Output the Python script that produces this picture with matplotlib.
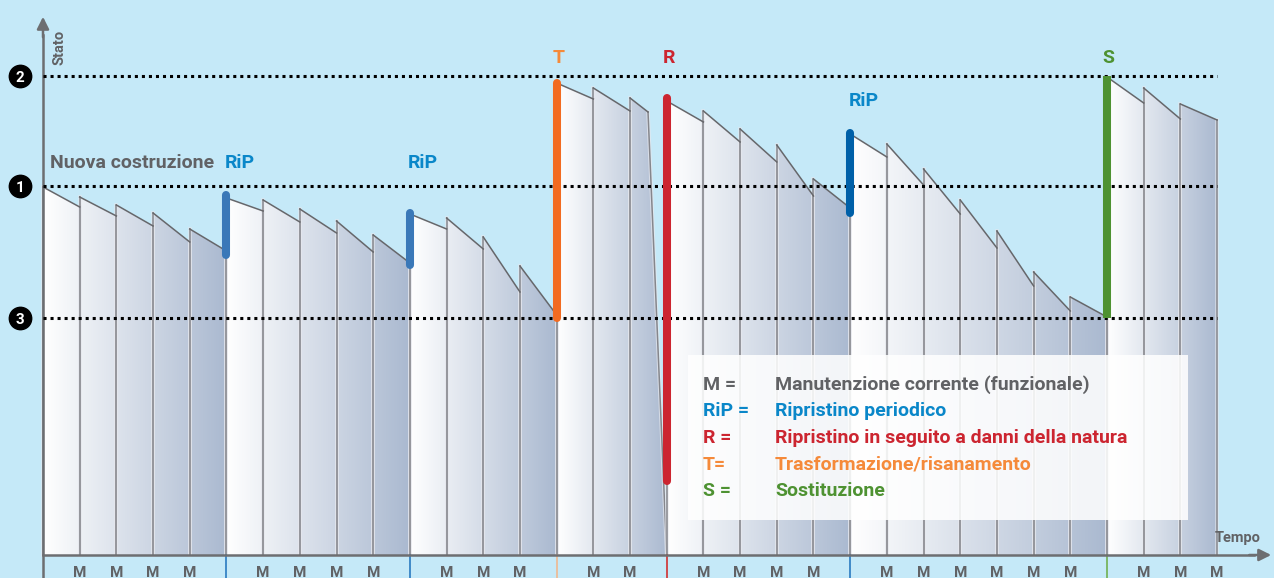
import numpy as np
import matplotlib.pyplot as plt
from matplotlib.patches import Polygon, Rectangle
from matplotlib.colors import LinearSegmentedColormap

plt.rcParams['font.family'] = ['Roboto', 'DejaVu Sans']
plt.rcParams['font.weight'] = 'bold'

# state levels (height above the time axis)
level_names = ['2', '1', '3']
level_values = [479, 369, 237]

# interventions: time, label, bar from/to, colours
event_t = [5, 10, 14, 17, 22, 29]
event_names = ['RiP', 'RiP', 'T', 'R', 'RiP', 'S']
event_low = [300, 290, 237, 74, 342, 237]
event_high = [360, 342, 472, 457, 422, 479]
event_bar_colors = ['#3a78b8', '#3a78b8', '#f26b21', '#cc2530', '#0060a8', '#4e9232']
event_text_colors = ['#0a87c9', '#0a87c9', '#f58a3a', '#cc2530', '#0a87c9', '#4e9232']
event_band_colors = ['#2a7ac0', '#2a7ac0', '#f0b890', '#d03030', '#2a7ac0', '#70b050']
event_label_h = [392, 392, 497, 497, 454, 497]

# one piece per maintenance period (start / end state)
piece_start = [368, 358, 350, 342, 326,
               357, 355, 346, 334, 320,
               341, 337, 318, 289,
               472, 467, 457,
               454, 444, 426, 410, 376,
               421, 411, 386, 355, 324, 283, 258,
               478, 467, 451]
piece_end = [348, 339, 329, 313, 304,
             344, 333, 322, 303, 292,
             326, 306, 263, 240,
             456, 444, 443,
             433, 413, 393, 359, 347,
             398, 370, 341, 307, 269, 244, 238,
             452, 436, 435]
t_end = 32
damage_t = 16.49   # state collapses here, reaches 0 at the R event

legend_keys = ['M =', 'RiP =', 'R =', 'T=', 'S =']
legend_texts = ['Manutenzione corrente (funzionale)', 'Ripristino periodico',
                'Ripristino in seguito a danni della natura',
                'Trasformazione/risanamento', 'Sostituzione']
legend_colors = ['#616265', '#0a87c9', '#cc2530', '#f58a3a', '#4e9232']

bg = '#c5e9f8'
gray = '#616265'
px_unit = 36.69

fig = plt.figure(figsize=(12.74, 5.78), dpi=100, facecolor=bg)
ax = fig.add_axes([0, 0, 1, 1])
ax.set_facecolor(bg)
ax.axis('off')

cmap = LinearSegmentedColormap.from_list('g', ['#ffffff', '#aab9d0'])
grad = np.linspace(0, 1, 256)[np.newaxis, :]
seg_bounds = [0] + event_t + [t_end]

for i in range(len(piece_start)):
    t0 = i
    t1 = i + 1
    s, e = piece_start[i], piece_end[i]
    if t0 < damage_t < t1:
        verts = [(t0, 0), (t0, s), (damage_t, e), (t1, 0)]
        top_end = (damage_t, e)
    else:
        verts = [(t0, 0), (t0, s), (t1, e), (t1, 0)]
        top_end = (t1, e)
    a = max(b for b in seg_bounds if b <= t0)
    b = min(b for b in seg_bounds if b > t0)
    poly = Polygon(verts, closed=True, facecolor='none', edgecolor='none')
    ax.add_patch(poly)
    im = ax.imshow(grad, cmap=cmap, extent=(a, b, 0, 500), aspect='auto', zorder=2)
    im.set_clip_path(poly)
    # edges
    ax.plot([t0, t0], [0, s], color='#e6e8ee', lw=2.6, zorder=3, alpha=0.7)
    ax.plot([t0, t0], [0, s], color='#85868c', lw=1.1, zorder=3)
    ax.plot([t0, top_end[0]], [s, top_end[1]], color='#66676b', lw=1.1, zorder=4)
    ax.plot([top_end[0], t1], [top_end[1], 0], color='#e6e8ee', lw=2.6, zorder=3, alpha=0.7)
    ax.plot([top_end[0], t1], [top_end[1], 0], color='#85868c', lw=1.1, zorder=3)

# level lines and markers
for name, v in zip(level_names, level_values):
    ax.plot([0, t_end], [v, v], color='black', lw=2.2, ls=(0, (1, 1.3)), zorder=6)
    ax.scatter([-23 / px_unit], [v], s=260, color='black', zorder=7, clip_on=False)
    ax.text(-23 / px_unit, v, name, color='white', fontsize=11, ha='center',
            va='center_baseline', zorder=8)

# intervention bars and labels
for t, n, lo, hi, bc, tc, bandc, lh in zip(event_t, event_names, event_low, event_high,
                                           event_bar_colors, event_text_colors,
                                           event_band_colors, event_label_h):
    cap = 'butt' if n == 'S' else 'round'
    ax.plot([t, t], [lo, hi], color=bc, lw=5.8, solid_capstyle=cap, zorder=6)
    ax.plot([t, t], [-23, 0], color=bandc, lw=1.2, zorder=3)
    if len(n) > 1:
        ax.text(t - 0.05, lh, n, color=tc, fontsize=14, ha='left', va='center')
    else:
        ax.text(t + 0.05, lh, n, color=tc, fontsize=14, ha='center', va='center')

ax.text(0.19, 392, 'Nuova costruzione', color=gray, fontsize=14, ha='left', va='center')

# maintenance labels
for t in range(1, t_end + 1):
    if t not in event_t:
        ax.text(t, -11, 'M', color=gray, fontsize=11, ha='center', va='top')

# axes with arrows
ax.plot([0, 0], [-23, 520], color='#6d6e71', lw=1.8, zorder=5)
ax.annotate('', xy=(0, 541), xytext=(0, 515),
            arrowprops=dict(arrowstyle='-|>', color='#6d6e71', lw=1.8, mutation_scale=18))
ax.plot([0, 33.0], [0, 0], color='#6d6e71', lw=1.8, zorder=5)
ax.annotate('', xy=(33.55, 0), xytext=(32.8, 0),
            arrowprops=dict(arrowstyle='-|>', color='#6d6e71', lw=1.8, mutation_scale=18))
ax.text(17 / px_unit, 508, 'Stato', color=gray, fontsize=10.5, rotation=90,
        ha='center', va='center')
ax.text(32.55, 17, 'Tempo', color=gray, fontsize=10.5, ha='center', va='center')

# legend box
ax.add_patch(Rectangle((688 / 1274, 1 - 520 / 578), 500 / 1274, 165 / 578,
                       transform=ax.transAxes, facecolor='white', alpha=0.86,
                       edgecolor='none', zorder=9))
for k, (key, txt, c) in enumerate(zip(legend_keys, legend_texts, legend_colors)):
    y = 1 - (385 + k * 26.5) / 578
    ax.text(703 / 1274, y, key, color=c, fontsize=14, ha='left', va='center',
            transform=ax.transAxes, zorder=10)
    ax.text(775 / 1274, y, txt, color=c, fontsize=14, ha='left', va='center',
            transform=ax.transAxes, zorder=10)

ax.set_xlim(-43 / px_unit, (1274 - 43) / px_unit)
ax.set_ylim(-23, 555)

plt.savefig('out.png', dpi=100, facecolor=bg)
